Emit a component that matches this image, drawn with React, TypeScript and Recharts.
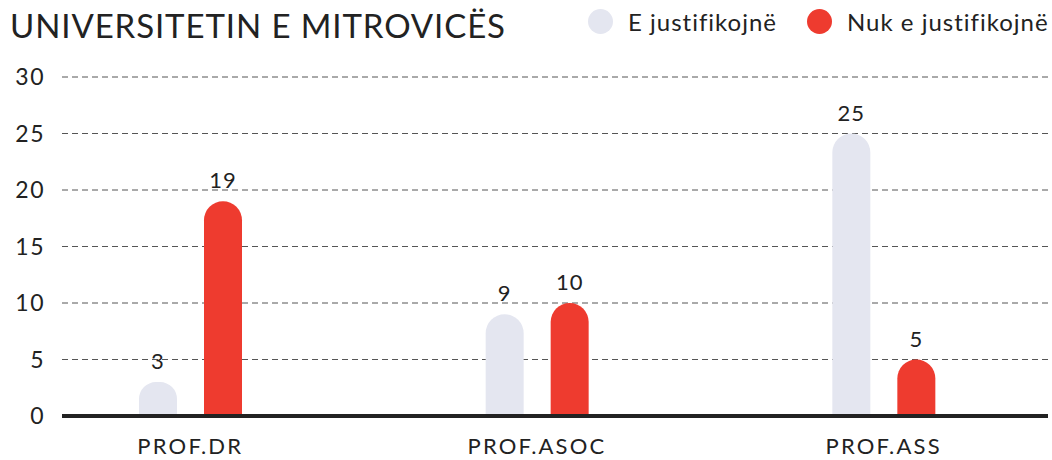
import React from 'react';
import { BarChart, Bar, XAxis, YAxis, CartesianGrid, LabelList } from 'recharts';

const categories = ['PROF.DR', 'PROF.ASOC', 'PROF.ASS'];
const justified = [3, 9, 25];
const notJustified = [19, 10, 5];
const yTicks = [0, 5, 10, 15, 20, 25, 30];

const GRAY = '#e4e6f0';
const RED = '#ee3b2f';
const FONT = 'Lato, "Noto Sans", sans-serif';

const data = categories.map((name, i) => ({
  name,
  justified: justified[i],
  notJustified: notJustified[i],
}));

const LegendDot = ({ color, label, left }: { color: string; label: string; left: number }) => (
  <div style={{ position: 'absolute', left, top: 7, display: 'flex', alignItems: 'center' }}>
    <span style={{ width: 25, height: 25, borderRadius: '50%', background: color, display: 'inline-block' }} />
    <span style={{ marginLeft: 15, fontSize: 24, letterSpacing: 1, color: '#222', whiteSpace: 'nowrap' }}>{label}</span>
  </div>
);

const App: React.FC = () => {
  return (
    <div
      style={{
        position: 'absolute',
        left: 0,
        top: 0,
        width: 1052,
        height: 460,
        overflow: 'hidden',
        fontFamily: FONT,
        background: '#fff',
      }}
    >
      <div style={{ position: 'absolute', left: 10, top: 5, fontSize: 33, letterSpacing: 0.9, color: '#222', whiteSpace: 'nowrap' }}>
        UNIVERSITETIN E MITROVICËS
      </div>
      <LegendDot color={GRAY} label="E justifikojnë" left={588} />
      <LegendDot color={RED} label="Nuk e justifikojnë" left={807} />
      <BarChart
        width={1052}
        height={460}
        data={data}
        margin={{ top: 77, right: 4, bottom: 0, left: 0 }}
        barSize={38}
        barGap={27}
        style={{ fontFamily: FONT }}
      >
        <CartesianGrid vertical={false} stroke="#555" strokeDasharray="6 4" />
        <XAxis
          dataKey="name"
          height={44}
          padding={{ left: -45, right: -9 }}
          axisLine={{ stroke: '#222', strokeWidth: 4 }}
          tickLine={false}
          tickSize={0}
          tickMargin={22}
          tick={{ fill: '#222', fontSize: 22, letterSpacing: 2.2 }}
        />
        <YAxis
          width={62}
          domain={[0, 30]}
          ticks={yTicks}
          axisLine={false}
          tickLine={false}
          tickSize={0}
          tickMargin={17}
          tick={{ fill: '#222', fontSize: 23, letterSpacing: 1.5 }}
        />
        <Bar dataKey="justified" fill={GRAY} radius={[19, 19, 0, 0]} isAnimationActive={false}>
          <LabelList dataKey="justified" position="top" offset={13} fill="#222" fontSize={22} letterSpacing={1} />
        </Bar>
        <Bar dataKey="notJustified" fill={RED} radius={[19, 19, 0, 0]} isAnimationActive={false}>
          <LabelList dataKey="notJustified" position="top" offset={13} fill="#222" fontSize={22} letterSpacing={1} />
        </Bar>
      </BarChart>
    </div>
  );
};

export default App;
